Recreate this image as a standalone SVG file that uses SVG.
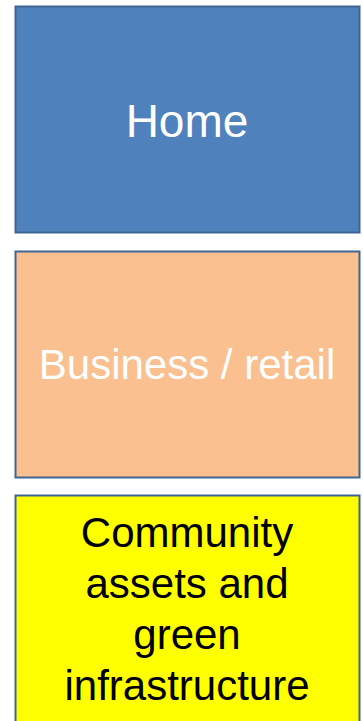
<svg xmlns="http://www.w3.org/2000/svg" width="363" height="721" viewBox="0 0 363 721">
<style>
.box{stroke:#3f6693;stroke-width:2}
.t{font-family:"Liberation Sans",Arial,sans-serif;text-anchor:middle}
</style>
<rect width="363" height="721" fill="#ffffff"/>
<g id="home">
<rect class="box" x="15.5" y="6.5" width="344" height="226" fill="#4f81bd"/>
<text class="t" x="187" y="137" font-size="46" fill="#ffffff">Home</text>
</g>
<g id="business">
<rect class="box" x="15.5" y="251.5" width="344" height="226" fill="#fac090"/>
<text class="t" x="187" y="379" font-size="42" fill="#ffffff">Business / retail</text>
</g>
<g id="community">
<rect class="box" x="15.5" y="495.5" width="344" height="240" fill="#ffff00"/>
<text class="t" x="187" y="547" font-size="42" fill="#000000">Community</text>
<text class="t" x="187" y="598" font-size="42" fill="#000000">assets and</text>
<text class="t" x="187" y="649" font-size="42" fill="#000000">green</text>
<text class="t" x="187" y="700" font-size="42" fill="#000000">infrastructure</text>
</g>
<g id="connectors"/>
</svg>
